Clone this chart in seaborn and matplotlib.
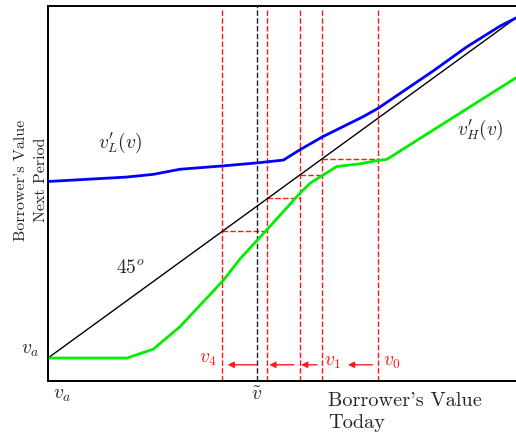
import matplotlib
matplotlib.use('Agg')
import matplotlib.pyplot as plt
import seaborn as sns
import pandas as pd

# value functions
v_grid_L = [0, 16.8, 22.5, 28.2, 37.5, 44.9, 50.3, 53.8, 58.6, 67.4, 70.5, 82.3, 89.5, 96.6, 100]
v_L_next = [51.9, 53.2, 54.0, 55.5, 56.5, 57.4, 58.2, 61.2, 65.0, 71.0, 73.4, 84.4, 91.5, 97.6, 100]

v_grid_H = [0, 16.9, 22.5, 28.2, 37.5, 41.0, 46.7, 53.8, 56.0, 58.8, 61.7, 66.7, 70.5, 72.4, 100]
v_H_next = [0, 0, 2.6, 9.2, 22.9, 29.1, 37.6, 48.4, 51.4, 53.8, 56.3, 57.1, 58.1, 58.4, 82.4]

diag = [0, 100]

# cobweb iterates v0, v1, v2, v3, v4 and the threshold v-tilde
v_iter = [70.6, 58.6, 53.8, 46.9, 37.2]
v_tilde = 44.6

# arrows along the bottom (start, end)
arrows = [(69.9, 63.5), (58.1, 53.5), (53.1, 46.7), (45.3, 37.8)]

sns.set_theme(style='white')
plt.rcParams['font.family'] = ['cmr10', 'DejaVu Serif']
plt.rcParams['mathtext.fontset'] = 'cm'
plt.rcParams['axes.unicode_minus'] = False

fig = plt.figure(figsize=(5.16, 4.33), dpi=100)
ax = fig.add_axes([48 / 516, 1 - 381 / 433, 1 - 48 / 516, 375 / 433])

red = '#ff1a1a'
ymin, ymax = -6.76, 103.5

# red dashed verticals and the staircase
for v in v_iter:
    ax.plot([v, v], [ymin, 102.5], color=red, lw=1.0, ls=(0, (4, 1.6)))
for a, b in zip(v_iter[:-1], v_iter[1:]):
    ax.plot([b, a], [b, b], color=red, lw=1.0, ls=(0, (4, 1.6)))
ax.plot([v_tilde, v_tilde], [ymin, ymax], color='#222222', lw=1.0, ls=(0, (4, 1.6)))

sns.lineplot(x=diag, y=diag, ax=ax, color='black', lw=1.0)
sns.lineplot(data=pd.DataFrame({'v': v_grid_L, 'vn': v_L_next}), x='v', y='vn',
             ax=ax, color='#0000ff', lw=2.0, sort=False)
sns.lineplot(data=pd.DataFrame({'v': v_grid_H, 'vn': v_H_next}), x='v', y='vn',
             ax=ax, color='#00ee00', lw=2.0, sort=False)

for a, b in arrows:
    ax.annotate('', xy=(b, -2.0), xytext=(a, -2.0),
                arrowprops=dict(arrowstyle='-|>', color=red, lw=1.0, mutation_scale=9))

fs = 14
ax.text(15.4, 63.2, r"$v_L^{\prime}(v)$", fontsize=fs, ha='center', va='center')
ax.text(92.3, 67.0, r"$v_H^{\prime}(v)$", fontsize=fs, ha='center', va='center')
ax.text(17.5, 26.5, r"$45^o$", fontsize=fs, ha='center', va='center')
ax.text(36.0, -0.2, r"$v_4$", fontsize=fs, ha='right', va='center', color=red)
ax.text(60.8, -1.2, r"$v_1$", fontsize=fs, ha='center', va='center', color=red)
ax.text(73.5, -1.2, r"$v_0$", fontsize=fs, ha='center', va='center', color=red)
ax.text(v_tilde, -11.0, r"$\tilde{v}$", fontsize=fs, ha='center', va='center')
ax.text(3.0, -11.0, r"$v_a$", fontsize=fs, ha='center', va='center')
ax.text(-3.8, 2.3, r"$v_a$", fontsize=fs, ha='center', va='center')

ax.text(59.8, -9.9, "Borrower's Value\nToday", fontsize=14.6, ha='left', va='top',
        linespacing=1.3)
ax.set_xlabel('')
ax.set_ylabel("Borrower's Value\nNext Period", fontsize=11.5, linespacing=1.6)
ax.yaxis.set_label_coords(0.0, 0.536)

ax.set_xlim(0, 100)
ax.set_ylim(ymin, ymax)
ax.set_xticks([])
ax.set_yticks([])
for s in ['left', 'bottom', 'top']:
    ax.spines[s].set_color('black')
    ax.spines[s].set_linewidth(1.4)
ax.spines['right'].set_visible(False)

fig.savefig('out.png', dpi=100)
